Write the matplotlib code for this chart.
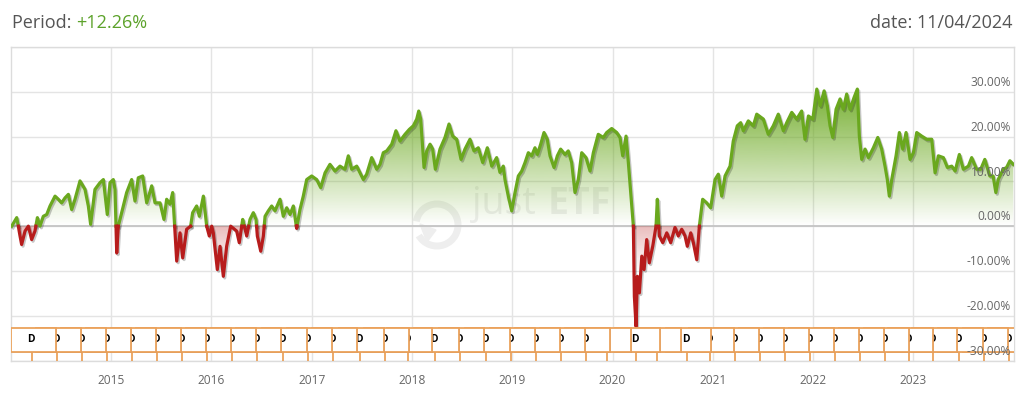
import numpy as np
import matplotlib
matplotlib.use("Agg")
import matplotlib.pyplot as plt
import matplotlib.patheffects as pe
from matplotlib.patches import Rectangle, Polygon, Arc

plt.rcParams['font.family'] = ['Open Sans', 'DejaVu Sans']

# performance since start, in percent (decimal years)
years = [
    2014.010, 2014.060, 2014.076, 2014.093, 2014.109, 2014.143, 2014.176, 2014.209, 2014.242, 2014.266,
    2014.292, 2014.325, 2014.359, 2014.392, 2014.442, 2014.475, 2014.508, 2014.541, 2014.575, 2014.608,
    2014.641, 2014.691, 2014.741, 2014.774, 2014.797, 2014.840, 2014.890, 2014.924, 2014.963, 2014.990,
    2015.023, 2015.040, 2015.057, 2015.073, 2015.106, 2015.156, 2015.206, 2015.239, 2015.272, 2015.316,
    2015.356, 2015.406, 2015.439, 2015.489, 2015.528, 2015.555, 2015.588, 2015.615, 2015.655, 2015.688,
    2015.715, 2015.754, 2015.794, 2015.814, 2015.854, 2015.881, 2015.921, 2015.954, 2015.980, 2016.004,
    2016.020, 2016.060, 2016.087, 2016.120, 2016.153, 2016.193, 2016.220, 2016.253, 2016.279, 2016.313,
    2016.353, 2016.386, 2016.419, 2016.446, 2016.459, 2016.493, 2016.519, 2016.536, 2016.568, 2016.602,
    2016.635, 2016.685, 2016.718, 2016.752, 2016.785, 2016.818, 2016.851, 2016.884, 2016.917, 2016.951,
    2017.001, 2017.051, 2017.091, 2017.134, 2017.183, 2017.233, 2017.283, 2017.333, 2017.366, 2017.400,
    2017.450, 2017.516, 2017.549, 2017.599, 2017.649, 2017.682, 2017.715, 2017.749, 2017.799, 2017.841,
    2017.881, 2017.931, 2017.974, 2018.014, 2018.048, 2018.068, 2018.088, 2018.121, 2018.148, 2018.181,
    2018.207, 2018.234, 2018.280, 2018.330, 2018.370, 2018.407, 2018.447, 2018.490, 2018.529, 2018.579,
    2018.619, 2018.662, 2018.706, 2018.752, 2018.796, 2018.845, 2018.878, 2018.911, 2018.928, 2018.961,
    2018.995, 2019.028, 2019.061, 2019.095, 2019.128, 2019.161, 2019.194, 2019.227, 2019.251, 2019.284,
    2019.317, 2019.350, 2019.377, 2019.417, 2019.450, 2019.483, 2019.526, 2019.559, 2019.593, 2019.626,
    2019.659, 2019.693, 2019.736, 2019.776, 2019.809, 2019.858, 2019.908, 2019.942, 2019.992, 2020.042,
    2020.075, 2020.102, 2020.135, 2020.158, 2020.182, 2020.208, 2020.218, 2020.235, 2020.248, 2020.268,
    2020.292, 2020.315, 2020.341, 2020.367, 2020.401, 2020.434, 2020.447, 2020.467, 2020.501, 2020.541,
    2020.580, 2020.623, 2020.656, 2020.690, 2020.723, 2020.746, 2020.780, 2020.806, 2020.840, 2020.866,
    2020.899, 2020.939, 2020.979, 2021.022, 2021.055, 2021.089, 2021.122, 2021.172, 2021.204, 2021.244,
    2021.278, 2021.304, 2021.354, 2021.404, 2021.438, 2021.504, 2021.553, 2021.603, 2021.653, 2021.703,
    2021.737, 2021.787, 2021.836, 2021.886, 2021.919, 2021.953, 2021.997, 2022.037, 2022.070, 2022.110,
    2022.142, 2022.169, 2022.196, 2022.229, 2022.269, 2022.301, 2022.335, 2022.368, 2022.408, 2022.441,
    2022.461, 2022.485, 2022.518, 2022.551, 2022.601, 2022.645, 2022.684, 2022.717, 2022.740, 2022.760,
    2022.784, 2022.827, 2022.860, 2022.894, 2022.927, 2022.967, 2023.000, 2023.033, 2023.083, 2023.133,
    2023.183, 2023.216, 2023.249, 2023.299, 2023.339, 2023.382, 2023.416, 2023.458, 2023.498, 2023.548,
    2023.581, 2023.631, 2023.671, 2023.712, 2023.762, 2023.795, 2023.822, 2023.845, 2023.895, 2023.929,
    2023.962, 2023.996,
]
perf = [
    0.0, 1.9, 0.0, -2.2, -4.1, -1.1, 0.0, -3.0, -1.1, 1.9,
    0.0, 2.2, 2.6, 4.5, 6.7, 6.0, 5.2, 6.3, 7.1, 3.7,
    6.0, 10.1, 8.2, 4.5, 0.4, 8.2, 9.7, 10.4, 2.6, 9.7,
    10.4, 8.2, -6.0, 0.0, 3.0, 7.5, 10.4, 5.6, 10.8, 11.2,
    5.2, 9.0, 5.2, 5.2, 1.5, 6.0, 4.9, 7.5, -7.8, -1.5,
    -7.1, -0.7, 0.0, 3.0, 4.5, 2.2, 6.7, 0.0, -2.2, 0.0,
    -1.5, -9.7, -4.5, -11.2, -4.5, 0.0, -0.5, -1.1, -3.7, 1.5,
    -2.2, 1.5, 3.0, 1.5, -2.2, -5.6, -2.2, 2.2, 3.4, 4.5,
    3.4, 6.0, 2.2, 4.1, 2.6, 4.5, -0.5, 3.7, 6.7, 10.4,
    11.2, 10.4, 8.6, 11.9, 13.8, 12.3, 13.4, 12.7, 15.7, 12.7,
    13.4, 10.4, 11.6, 15.3, 12.7, 13.8, 16.4, 16.8, 18.3, 21.3,
    19.0, 20.5, 21.6, 22.4, 23.9, 25.7, 23.9, 13.1, 16.8, 18.3,
    17.2, 12.7, 17.2, 19.8, 22.8, 20.1, 19.4, 14.9, 17.2, 19.4,
    16.8, 17.5, 14.2, 17.5, 13.4, 15.3, 12.0, 13.4, 10.4, 6.7,
    3.4, 7.5, 11.2, 12.3, 14.2, 16.4, 15.7, 17.5, 16.0, 18.3,
    20.9, 19.4, 15.7, 13.1, 15.7, 17.2, 16.0, 16.8, 14.2, 7.5,
    10.4, 16.4, 15.3, 12.3, 16.4, 20.5, 19.8, 20.9, 21.8, 20.9,
    19.8, 15.7, 20.1, 14.2, 7.5, 0.0, -15.7, -22.4, -11.2, -14.9,
    -6.7, -9.7, -3.0, -8.2, -4.5, 0.0, 6.0, -2.2, -3.7, -1.5,
    -3.7, -0.3, -2.2, -0.7, -2.2, -4.5, -1.5, -3.7, -7.5, 0.0,
    6.0, 5.2, 4.1, 10.4, 11.6, 6.7, 11.2, 13.4, 19.0, 22.4,
    23.1, 21.3, 23.5, 22.4, 25.0, 23.9, 20.5, 22.4, 25.0, 21.3,
    23.1, 25.4, 23.9, 25.7, 19.4, 24.6, 23.9, 30.6, 26.9, 30.2,
    26.9, 22.4, 19.8, 26.1, 28.4, 26.1, 29.5, 26.1, 28.7, 30.6,
    20.1, 14.9, 17.2, 15.3, 17.5, 19.8, 17.2, 13.4, 10.4, 6.7,
    10.4, 15.7, 20.9, 17.2, 20.9, 14.9, 16.4, 20.9, 20.1, 19.4,
    19.4, 11.9, 15.7, 15.3, 13.1, 13.4, 12.3, 16.0, 12.7, 13.4,
    15.3, 12.7, 12.7, 14.9, 11.2, 11.2, 7.5, 10.4, 12.7, 13.1,
    14.6, 13.8,
]

# dividend flags (quarterly)
div_dates = [
    2014.212, 2014.462, 2014.711, 2014.960, 2015.209, 2015.459, 2015.708, 2015.957,
    2016.206, 2016.456, 2016.715, 2016.964, 2017.213, 2017.482, 2017.732, 2017.961,
    2018.230, 2018.479, 2018.738, 2018.988, 2019.237, 2019.486, 2019.736, 2019.945,
    2020.234, 2020.444, 2020.743, 2020.972, 2021.221, 2021.470, 2021.720, 2021.969,
    2022.218, 2022.467, 2022.717, 2022.956, 2023.195, 2023.454, 2023.704, 2023.953,
]

year_ticks = list(range(2015, 2024))
y_ticks = [-30, -20, -10, 0, 10, 20, 30]
period_label = "+12.26%"
date_label = "date: 11/04/2024"

GREEN = '#6aa81e'
RED = '#b71c1c'
ORANGE = '#eba25c'


def split_at_zero(x, y):
    xs, ys = [x[0]], [y[0]]
    for i in range(1, len(x)):
        y0, y1 = y[i - 1], y[i]
        if y0 * y1 < 0:
            t = y0 / (y0 - y1)
            xs.append(x[i - 1] + t * (x[i] - x[i - 1]))
            ys.append(0.0)
        xs.append(x[i])
        ys.append(y1)
    return np.array(xs), np.array(ys)


xs, ys = split_at_zero(years, perf)

fig = plt.figure(figsize=(10.24, 3.94), dpi=100)
ax = fig.add_axes([0.01045, 0.085, 0.9795, 0.7957])

# grid
ax.set_xticks(year_ticks)
ax.set_xticklabels([str(y) for y in year_ticks])
ax.set_yticks(range(-30, 41, 10))
ax.set_yticklabels([])
ax.grid(True, color='#e4e4e4', lw=1.0, zorder=0)
ax.set_axisbelow(True)
ax.tick_params(axis='both', length=0)
ax.tick_params(axis='x', pad=10, labelsize=8.6, labelcolor='#666666')
for s in ax.spines.values():
    s.set_color('#dcdcdc')
    s.set_linewidth(1.0)
ax.axhline(0, color='#c4c4c4', lw=1.3, zorder=1)

# watermark
ax.text(2014.0 + 461.5 / 1003 * 10, 2.7, "just", fontsize=27, color='#eeeeee',
        ha='left', va='baseline', zorder=0.5)
ax.text(2014.0 + 536.5 / 1003 * 10, 2.7, "ETF", fontsize=27, color='#eeeeee',
        fontweight='bold', ha='left', va='baseline', zorder=0.5)
inch = fig.dpi_scale_trans
ax.add_patch(Arc((4.37, 1.69), 0.42, 0.42, theta1=-150, theta2=170, lw=5,
                 color='#eeeeee', transform=inch, clip_on=False, zorder=0.5))
ax.add_patch(Polygon([(4.20, 1.70), (4.27, 1.52), (4.36, 1.64)], closed=True,
                     color='#eeeeee', transform=inch, clip_on=False, zorder=0.5))

# gradient fills under / over the zero line
top = max(perf)
bottom = min(perf)
g = np.linspace(0, 1, 256)
grad_g = np.zeros((256, 1, 4))
grad_g[..., 0], grad_g[..., 1], grad_g[..., 2] = 106 / 255, 168 / 255, 30 / 255
grad_g[:, 0, 3] = 0.92 * g
im_g = ax.imshow(grad_g, extent=(2014, 2024, 0, top), origin='lower', aspect='auto', zorder=1.5)
poly_g = Polygon(np.column_stack([np.r_[xs, xs[::-1]], np.r_[np.maximum(ys, 0), np.zeros(len(xs))]]),
                 closed=True, transform=ax.transData, facecolor='none', edgecolor='none')
ax.add_patch(poly_g)
im_g.set_clip_path(poly_g)

grad_r = np.zeros((256, 1, 4))
grad_r[..., 0], grad_r[..., 1], grad_r[..., 2] = 183 / 255, 28 / 255, 28 / 255
grad_r[:, 0, 3] = 0.3 * np.clip(g * 2.2 - 1.2, 0, 1)
im_r = ax.imshow(grad_r, extent=(2014, 2024, bottom, 0), origin='lower', aspect='auto', zorder=1.5)
poly_r = Polygon(np.column_stack([np.r_[xs, xs[::-1]], np.r_[np.minimum(ys, 0), np.zeros(len(xs))]]),
                 closed=True, transform=ax.transData, facecolor='none', edgecolor='none')
ax.add_patch(poly_r)
im_r.set_clip_path(poly_r)
ax.set_xlim(2014.0, 2024.0)
ax.set_ylim(-30, 40)

# performance line
shadow = [pe.SimpleLineShadow(offset=(1.0, -1.2), alpha=0.22, shadow_color='black'), pe.Normal()]
ax.plot(xs, np.where(ys >= 0, ys, np.nan), color=GREEN, lw=2.3, zorder=3,
        solid_joinstyle='round', path_effects=shadow)
ax.plot(xs, np.where(ys <= 0, ys, np.nan), color=RED, lw=2.3, zorder=3,
        solid_joinstyle='round', path_effects=shadow)

# y labels inside the plot
for v in y_ticks:
    ax.annotate(f"{v:.2f}%", xy=(1, v), xycoords=('axes fraction', 'data'),
                xytext=(-2, 2), textcoords='offset points', ha='right', va='bottom',
                fontsize=8.6, color='#666666', zorder=6)

# dividend flags, earlier ones drawn on top
box_fx = [pe.SimplePatchShadow(offset=(0.8, -0.8), alpha=0.3), pe.Normal()]
n = len(div_dates)
for i in range(n - 1, -1, -1):
    d = div_dates[i]
    z = 4 + 0.01 * (n - i)
    ax.plot([d, d], [-28.1, -30], color=ORANGE, lw=1.3, zorder=z, solid_capstyle='butt')
    ax.add_patch(Rectangle((d - 0.209, -28.1), 0.448, 5.4, facecolor='white',
                           edgecolor=ORANGE, lw=1.3, zorder=z, path_effects=box_fx))
    ax.text(d - 0.015, -25.2, "D", fontsize=7.4, fontweight='bold', color='black',
            ha='center', va='center', zorder=z + 0.005, clip_on=True)

# header texts
t1 = fig.text(12 / 1024, 1 - 28.5 / 394, "Period: ", fontsize=13, color='#555555',
              ha='left', va='baseline')
fig.canvas.draw()
ax.annotate(period_label, xy=(1, 0), xycoords=t1, ha='left', va='bottom',
            fontsize=13, color='#5ca22a', annotation_clip=False)
fig.text(1013 / 1024, 1 - 28.5 / 394, date_label, fontsize=13, color='#555555',
         ha='right', va='baseline')

fig.savefig("out.png", dpi=100)
